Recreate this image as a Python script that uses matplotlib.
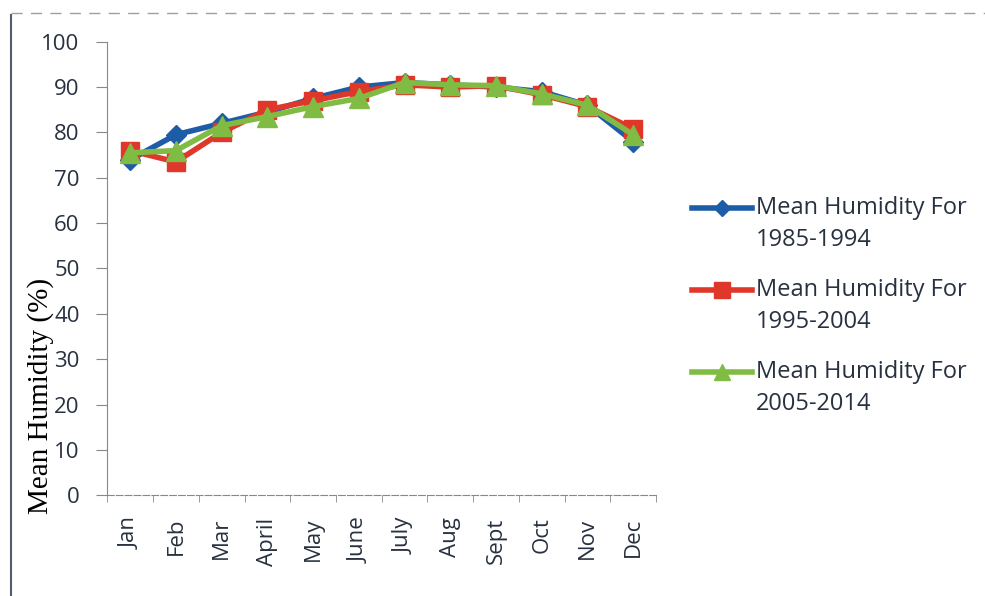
import numpy as np
import matplotlib
matplotlib.use("Agg")
import matplotlib.pyplot as plt
from matplotlib.lines import Line2D

months = ['Jan', 'Feb', 'Mar', 'April', 'May', 'June', 'July', 'Aug', 'Sept', 'Oct', 'Nov', 'Dec']
hum_1985_1994 = [74, 79.5, 82, 84.5, 87.5, 90, 91, 90.5, 90, 89, 86, 78]
hum_1995_2004 = [76, 73.5, 80, 85, 87, 89, 90.5, 90, 90.3, 88.3, 85.7, 80.8]
hum_2005_2014 = [75.5, 76, 81.5, 83.5, 85.7, 87.5, 91, 90.5, 90.3, 88.5, 86, 79.5]
labels = ['Mean Humidity For\n1985-1994', 'Mean Humidity For\n1995-2004', 'Mean Humidity For\n2005-2014']

txt = '#283140'
tick_font = 'Open Sans'
colors = ['#1d5ca6', '#e0372b', '#80bb44']
markers = [('D', 10), ('s', 13), ('^', 14)]

fig = plt.figure(figsize=(9.85, 5.96), dpi=100)
ax = fig.add_axes([0.109, 0.169, 0.557, 0.761])

x = np.arange(len(months))
for i, vals in enumerate([hum_1985_1994, hum_1995_2004, hum_2005_2014]):
    ax.plot(x, vals, lw=4, color=colors[i], marker=markers[i][0], ms=markers[i][1], zorder=3 + i)

ax.set_xlim(-0.5, len(months) - 0.5)
ax.set_ylim(0, 100)
ax.set_yticks(range(0, 101, 10))
ax.set_xticks(x)
ax.set_xticklabels(months, rotation=90, fontsize=16, family=tick_font, color=txt)
ax.set_xticks(np.arange(-0.5, len(months)), minor=True)
ax.tick_params(axis='x', which='major', length=0, pad=16)
ax.tick_params(axis='x', which='minor', length=5, color='#888888', direction='out')
ax.tick_params(axis='y', length=8, color='#888888', labelsize=16, labelcolor=txt, pad=12)
for t in ax.get_yticklabels():
    t.set_family(tick_font)

for s in ['top', 'right']:
    ax.spines[s].set_visible(False)
ax.spines['left'].set_color('#888888')
ax.spines['bottom'].set_color('#888888')
ax.spines['bottom'].set_linestyle((0, (6, 2)))

ax.set_ylabel('Mean Humidity (%)', family='Liberation Serif', fontsize=21, color='black')
ax.yaxis.set_label_coords(-0.098, 0.22)

# frame of the pasted picture
fig.add_artist(Line2D([0.011, 0.011], [0.0, 0.975], color='#555c6a', lw=1.5))
fig.add_artist(Line2D([0.011, 1.0], [0.978, 0.978], color='#9aa0a8', lw=1, ls=(0, (8, 6))))

# legend, marker level with the first line of each label
W, H = 985, 596
for i, lab in enumerate(labels):
    yc = 1 - (208 + 82 * i) / H
    fig.add_artist(Line2D([692 / W, 752 / W], [yc, yc], lw=4, color=colors[i]))
    fig.add_artist(Line2D([722 / W], [yc], lw=0, color=colors[i],
                          marker=markers[i][0], ms=markers[i][1] - 2))
    for j, line in enumerate(lab.split('\n')):
        fig.text(756 / W, yc - j * 32 / H, line, family=tick_font, fontsize=17,
                 color=txt, va='center', ha='left')

fig.savefig('out.png', dpi=100)
